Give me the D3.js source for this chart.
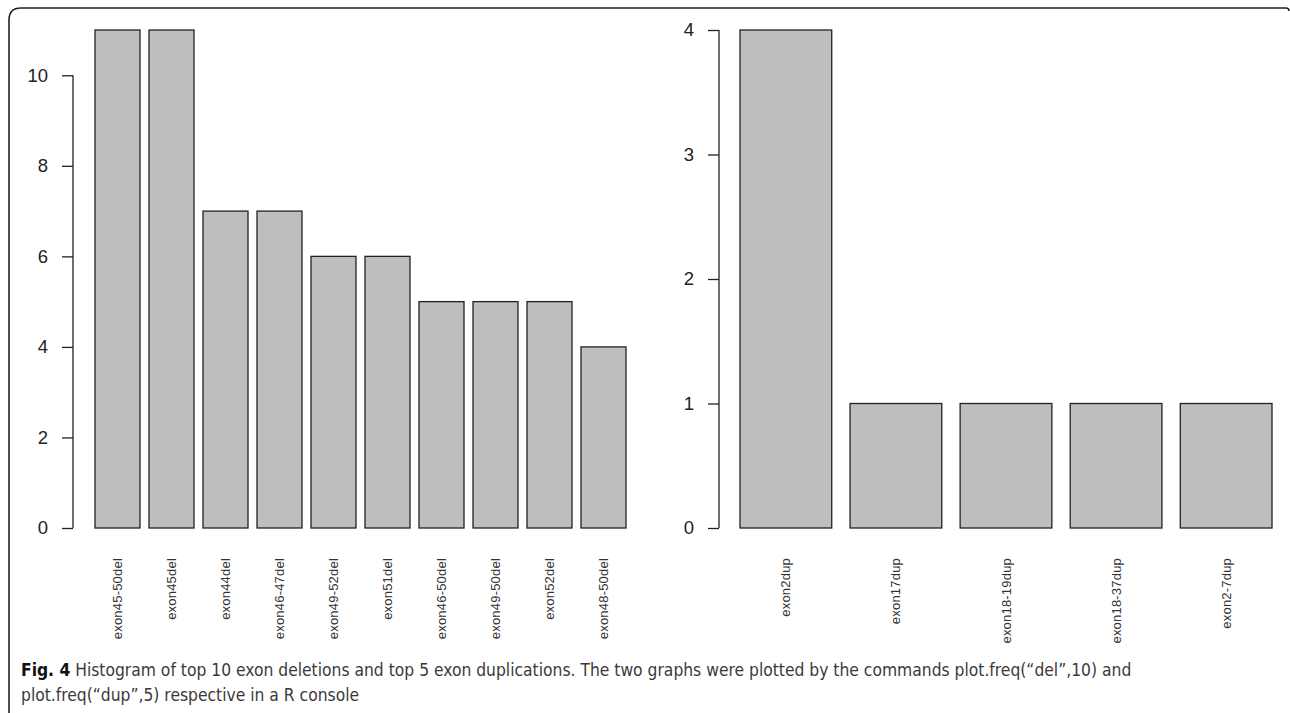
<!DOCTYPE html>
<html><head><meta charset="utf-8">
<script src="https://cdnjs.cloudflare.com/ajax/libs/d3/7.8.5/d3.min.js"></script>
<style>body{margin:0;background:#fff}svg{display:block}</style>
</head><body>
<svg id="c" width="1290" height="713"></svg>
<script>
const delCategories = ["exon45-50del","exon45del","exon44del","exon46-47del","exon49-52del","exon51del","exon46-50del","exon49-50del","exon52del","exon48-50del"];
const delValues = [11,11,7,7,6,6,5,5,5,4];
const delTicks = [0,2,4,6,8,10];
const dupCategories = ["exon2dup","exon17dup","exon18-19dup","exon18-37dup","exon2-7dup"];
const dupValues = [4,1,1,1,1];
const dupTicks = [0,1,2,3,4];
const captionBold = "Fig. 4";
const captionLine1 = " Histogram of top 10 exon deletions and top 5 exon duplications. The two graphs were plotted by the commands plot.freq(“del”,10) and";
const captionLine2 = "plot.freq(“dup”,5) respective in a R console";

const svg = d3.select("#c");
svg.append("path").attr("d","M9,713 V20 Q9,8 21,8 H1286 Q1289,8 1289,11")
  .attr("fill","none").attr("stroke","#222").attr("stroke-width",1.6);

function panel(cats, vals, ticks, ymax, axisX, x0, x1) {
  const g = svg.append("g");
  const y = d3.scaleLinear().domain([0, ymax]).range([528, 30]);
  const x = d3.scaleBand().domain(cats).range([x0, x1]).paddingInner(1/6).paddingOuter(0);
  g.selectAll("rect.bar").data(cats).join("rect").attr("class","bar")
    .attr("x", d => x(d)).attr("width", x.bandwidth())
    .attr("y", (d,i) => y(vals[i])).attr("height", (d,i) => y(0) - y(vals[i]))
    .attr("fill","#bebebe").attr("stroke","#222").attr("stroke-width",1.3);
  const ax = g.append("g").attr("transform",`translate(${axisX},0)`)
    .call(d3.axisLeft(y).tickValues(ticks).tickSize(11).tickSizeOuter(0).tickPadding(14).tickFormat(d3.format("d")));
  ax.select(".domain").remove();
  ax.append("line").attr("x1",0).attr("x2",0).attr("y1",y(ticks[0])).attr("y2",y(ticks[ticks.length-1]))
    .attr("stroke","#222").attr("stroke-width",1.3);
  ax.selectAll(".tick line").attr("stroke","#222").attr("stroke-width",1.3);
  ax.selectAll(".tick text").attr("font-family","Liberation Sans, Arial, sans-serif").attr("font-size",18.5).attr("fill","#222");
  g.selectAll("text.lab").data(cats).join("text").attr("class","lab")
    .attr("transform", d => `translate(${x(d) + x.bandwidth()/2},558) rotate(-90)`)
    .attr("text-anchor","end").attr("dy","0.35em")
    .attr("font-family","Liberation Sans, Arial, sans-serif").attr("font-size",13)
    .attr("letter-spacing","0.2px").attr("fill","#333").text(d => d);
}
panel(delCategories, delValues, delTicks, 11, 73, 95, 626);
panel(dupCategories, dupValues, dupTicks, 4, 719, 740, 1272);

const cap = svg.append("g").attr("font-family","'Liberation Sans Narrow', 'DejaVu Sans Condensed', 'Open Sans', sans-serif").attr("fill","#3a3a3a");
const t1 = cap.append("text").attr("x",21).attr("y",676).attr("font-size",16);
t1.append("tspan").attr("font-weight","bold").attr("fill","#111").text(captionBold);
t1.append("tspan").text(captionLine1);
const t2 = cap.append("text").attr("x",21).attr("y",701).attr("font-size",16).text(captionLine2);
const w = t1.node().getComputedTextLength();
const fs = 16 * 1111 / w;
t1.attr("font-size", fs); t2.attr("font-size", fs);
</script>
</body></html>
